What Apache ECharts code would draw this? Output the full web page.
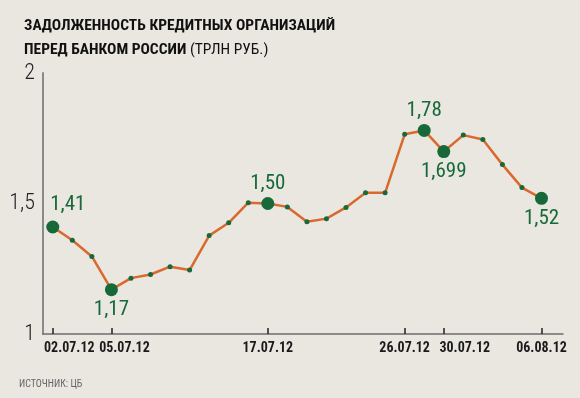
<!DOCTYPE html>
<html>
<head>
<meta charset="utf-8">
<script src="https://cdn.jsdelivr.net/npm/echarts@6/dist/echarts.min.js"></script>
<style>
  html, body { margin: 0; padding: 0; background: #e9e7e0; }
  #chart { width: 580px; height: 398px; }
</style>
</head>
<body>
<div id="chart"></div>
<script>
// торговые дни
var dates = ['02.07.12','03.07.12','04.07.12','05.07.12','06.07.12','09.07.12','10.07.12','11.07.12',
  '12.07.12','13.07.12','16.07.12','17.07.12','18.07.12','19.07.12','20.07.12','23.07.12','24.07.12',
  '25.07.12','26.07.12','27.07.12','30.07.12','31.07.12','01.08.12','02.08.12','03.08.12','06.08.12'];
// трлн руб.
var debt = [1.41, 1.359, 1.297, 1.17, 1.214, 1.228, 1.258, 1.245, 1.377, 1.426, 1.503, 1.50, 1.487,
  1.430, 1.442, 1.485, 1.541, 1.541, 1.765, 1.78, 1.699, 1.762, 1.745, 1.649, 1.561, 1.52];
var shownDates = ['02.07.12','05.07.12','17.07.12','26.07.12','30.07.12','06.08.12'];
var markedDates = ['02.07.12','05.07.12','17.07.12','27.07.12','30.07.12','06.08.12'];
var yTicks = [1, 1.5, 2];

var GREEN = '#17693a';
var font = '"Roboto Condensed", "Open Sans Condensed", sans-serif';

// где ставить подпись у крупных точек
var labelPlace = {
  '02.07.12': {position: 'top', offset: [15, -2]},
  '05.07.12': {position: 'bottom'},
  '17.07.12': {position: 'top'},
  '27.07.12': {position: 'top'},
  '30.07.12': {position: 'bottom'},
  '06.08.12': {position: 'bottom'}
};
// сдвиг подписей оси вправо
var labelShift = {'02.07.12': 's1', '05.07.12': 's2', '30.07.12': 's3'};

function fmt(v) {
  var s = String(v);
  if (s.indexOf('.') < 0) s += '.00';
  else if (s.split('.')[1].length < 2) s += '0';
  return s.replace('.', ',');
}

// x = порядковый номер дня, начиная с 1
var seriesData = debt.map(function (v, i) {
  var d = dates[i];
  if (markedDates.indexOf(d) >= 0) {
    var p = labelPlace[d];
    return {
      value: [i + 1, v],
      symbolSize: 13,
      label: {
        show: true, position: p.position, offset: p.offset || [0, 0], distance: 3,
        formatter: fmt(v), color: GREEN, fontSize: 21, fontFamily: font
      }
    };
  }
  return {value: [i + 1, v]};
});

var tickIdx = shownDates.map(function (d) { return dates.indexOf(d) + 1; });
var axisFont = {fontFamily: font, fontSize: 14, fontWeight: 'bold', color: '#1a1a1a'};

var myChart = echarts.init(document.getElementById('chart'));
myChart.setOption({
  backgroundColor: '#e9e7e0',
  animation: false,
  title: {
    left: 19, top: 9,
    text: '{b|ЗАДОЛЖЕННОСТЬ КРЕДИТНЫХ ОРГАНИЗАЦИЙ}\n{b|ПЕРЕД БАНКОМ РОССИИ}{n| (ТРЛН РУБ.)}',
    textStyle: {
      fontWeight: 'normal',
      rich: {
        b: {fontFamily: font, fontSize: 15.5, fontWeight: 'bold', color: '#111', lineHeight: 24},
        n: {fontFamily: font, fontSize: 15.5, fontWeight: 'normal', color: '#111', lineHeight: 24}
      }
    }
  },
  graphic: [{
    type: 'text', left: 19, top: 379,
    style: {text: 'ИСТОЧНИК: ЦБ', fill: '#666', font: '10px ' + font}
  }],
  grid: {left: 43, right: 17, top: 73, bottom: 64},
  xAxis: {
    type: 'value', min: 0.5, max: 27.1,
    splitLine: {show: false},
    axisLine: {show: true, onZero: false, lineStyle: {color: '#6e6e6e', width: 1.5}},
    axisTick: {show: true, inside: true, length: 6, customValues: tickIdx,
      lineStyle: {color: '#222', width: 1.5}},
    axisLabel: {
      customValues: tickIdx, margin: 7, hideOverlap: false,
      fontFamily: font, fontSize: 14, fontWeight: 'bold', color: '#1a1a1a',
      formatter: function (v) {
        var d = dates[v - 1];
        return labelShift[d] ? '{' + labelShift[d] + '|' + d + '}' : d;
      },
      rich: {
        s1: Object.assign({padding: [0, 0, 0, 33]}, axisFont),
        s2: Object.assign({padding: [0, 0, 0, 26]}, axisFont),
        s3: Object.assign({padding: [0, 0, 0, 42]}, axisFont)
      }
    }
  },
  yAxis: {
    type: 'value', min: 1, max: 2,
    splitLine: {show: false},
    axisLine: {show: true, onZero: false, lineStyle: {color: '#8a8a8a', width: 2}},
    axisTick: {show: false},
    axisLabel: {
      customValues: yTicks, margin: 8,
      fontFamily: font, fontSize: 22, fontWeight: 300, color: '#222',
      formatter: function (v) { return String(v).replace('.', ','); }
    }
  },
  series: [{
    type: 'line',
    data: seriesData,
    symbol: 'circle',
    symbolSize: 5,
    showAllSymbol: true,
    lineStyle: {color: '#d9692e', width: 2.5},
    itemStyle: {color: GREEN}
  }]
});
</script>
</body>
</html>
